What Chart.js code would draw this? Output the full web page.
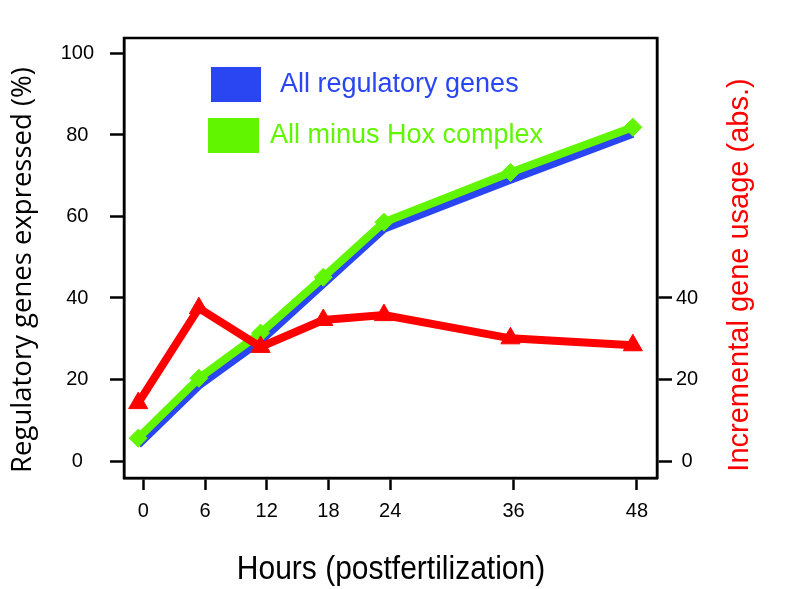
<!DOCTYPE html>
<html>
<head>
<meta charset="utf-8">
<script src="https://cdn.jsdelivr.net/npm/chart.js@4.4.0/dist/chart.umd.min.js"></script>
<style>
  html, body { margin: 0; padding: 0; background: #fff; }
  canvas { display: block; }
</style>
</head>
<body>
<canvas id="chart" width="797" height="589"></canvas>
<script>
// ==================================== data
const hourTicks = [0, 6, 12, 18, 24, 36, 48];
const leftTicks = [0, 20, 40, 60, 80, 100];
const rightTicks = [0, 20, 40];

// sample times as plotted (points sit a little left of the tick marks)
const sampleHours = [-0.5, 5.4, 11.4, 17.5, 23.4, 35.7, 47.6];
const allRegulatory = [4, 18.5, 29.5, 43.5, 57, 69, 80.3];
const minusHox = [5.6, 20.3, 31.4, 45.1, 58.6, 70.8, 81.9];
const incrementalUsage = [14.2, 37.5, 28, 34.6, 35.8, 30.1, 28.4];

const BLUE = "#2a45f2";
const GREEN = "#62f500";
const RED = "#ff0000";
const FONT = "'Liberation Sans', Arial, Helvetica, sans-serif";

const toPoints = (ys) => ys.map((y, i) => ({ x: sampleHours[i], y }));

// ==================================== box, titles, legend
const decorations = {
    id: "decorations",
    afterDraw(chart) {
        const { ctx, chartArea: a } = chart;
        ctx.save();
        ctx.strokeStyle = "#000";
        ctx.lineWidth = 2.5;
        ctx.strokeRect(a.left, a.top, a.right - a.left, a.bottom - a.top);

        // x title
        ctx.fillStyle = "#000";
        ctx.textAlign = "center";
        ctx.textBaseline = "middle";
        ctx.font = `30px ${FONT}`;
        ctx.save();
        ctx.translate(391, 570);
        ctx.scale(1, 1.12);
        ctx.fillText("Hours (postfertilization)", 0, 0);
        ctx.restore();

        // left title
        ctx.save();
        ctx.translate(23, 270);
        ctx.rotate(-Math.PI / 2);
        ctx.font = `27.5px 'Open Sans', ${FONT}`;
        ctx.fillText("Regulatory genes expressed (%)", 0, 0);
        ctx.restore();

        // right title
        ctx.save();
        ctx.translate(740, 275);
        ctx.rotate(-Math.PI / 2);
        ctx.fillStyle = RED;
        ctx.font = `29px ${FONT}`;
        ctx.fillText("Incremental gene usage (abs.)", 0, 0);
        ctx.restore();

        // legend
        const items = [
            { label: chart.data.datasets[0].label, color: BLUE, box: [211, 67, 50, 35], tx: 280, ty: 85 },
            { label: chart.data.datasets[1].label, color: GREEN, box: [208, 118, 51, 35], tx: 270, ty: 136 }
        ];
        ctx.textAlign = "left";
        ctx.font = `27px ${FONT}`;
        items.forEach(it => {
            ctx.fillStyle = it.color;
            ctx.fillRect(...it.box);
            ctx.fillText(it.label, it.tx, it.ty);
        });
        ctx.restore();
    }
};

const axisGrid = (len) => ({
    drawOnChartArea: false,
    drawTicks: true,
    tickLength: len,
    tickWidth: 2.5,
    tickColor: "#000"
});
const axisBorder = { display: true, color: "#000", width: 2.5 };
const tickFont = { family: FONT, size: 20 };

const config = {
    type: "line",
    data: {
        datasets: [
            {
                label: "All regulatory genes",
                data: toPoints(allRegulatory),
                borderColor: BLUE,
                backgroundColor: BLUE,
                borderWidth: 8,
                pointRadius: 0,
                yAxisID: "y",
                order: 3
            },
            {
                label: "All minus Hox complex",
                data: toPoints(minusHox),
                borderColor: GREEN,
                backgroundColor: GREEN,
                borderWidth: 8,
                pointStyle: "rectRot",
                pointRadius: 9,
                pointBorderWidth: 1,
                yAxisID: "y",
                order: 2
            },
            {
                label: "Incremental gene usage",
                data: toPoints(incrementalUsage),
                borderColor: RED,
                backgroundColor: RED,
                borderWidth: 8,
                pointStyle: "triangle",
                pointRadius: 11,
                pointBorderWidth: 1,
                yAxisID: "y2",
                order: 1
            }
        ]
    },
    options: {
        responsive: false,
        animation: false,
        layout: { padding: { top: 38, left: 0, right: 0, bottom: 0 } },
        plugins: { legend: { display: false }, tooltip: { enabled: false } },
        scales: {
            x: {
                type: "linear",
                min: -1.88,
                max: 49.95,
                grid: axisGrid(12),
                border: axisBorder,
                afterBuildTicks: s => { s.ticks = hourTicks.map(v => ({ value: v })); },
                afterFit: s => { s.height = 111; },
                ticks: { color: "#000", font: tickFont, padding: 9, maxRotation: 0 }
            },
            y: {
                position: "left",
                min: -4.17,
                max: 103.8,
                grid: axisGrid(14),
                border: axisBorder,
                afterBuildTicks: s => { s.ticks = leftTicks.map(v => ({ value: v })); },
                afterFit: s => { s.width = 124; },
                ticks: { color: "#000", font: tickFont, padding: 16, crossAlign: "center" }
            },
            y2: {
                position: "right",
                min: -4.17,
                max: 103.8,
                grid: axisGrid(15),
                border: axisBorder,
                afterBuildTicks: s => { s.ticks = rightTicks.map(v => ({ value: v })); },
                afterFit: s => { s.width = 140; },
                ticks: { color: "#000", font: tickFont, padding: 4, crossAlign: "center" }
            }
        }
    },
    plugins: [decorations]
};

new Chart(document.querySelector("#chart"), config);
</script>
</body>
</html>
